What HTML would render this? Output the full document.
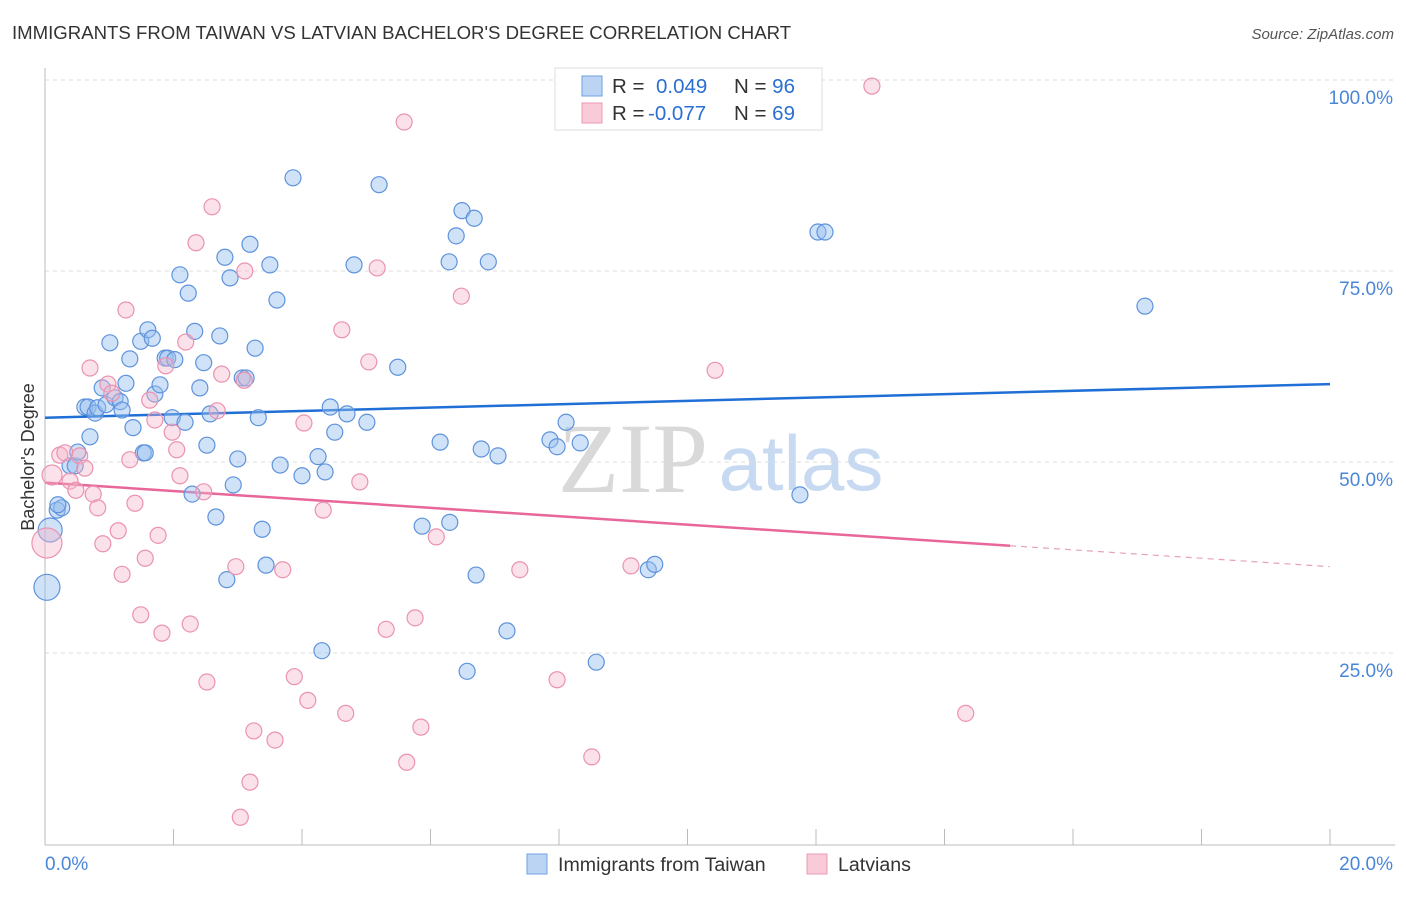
<!DOCTYPE html>
<html><head><meta charset="utf-8"><style>
body{margin:0;background:#fff;font-family:"Liberation Sans",sans-serif}
svg text{font-family:"Liberation Sans",sans-serif}
</style></head><body>
<svg id="chart" width="1406" height="892" xmlns="http://www.w3.org/2000/svg">
<text x="12" y="39" font-size="18.6" fill="#333">IMMIGRANTS FROM TAIWAN VS LATVIAN BACHELOR'S DEGREE CORRELATION CHART</text>
<text x="1394" y="39" font-size="15" fill="#555" font-style="italic" text-anchor="end">Source: ZipAtlas.com</text>
<g>
<text x="633" y="492" font-size="100" fill="#d9d9d9" text-anchor="middle" font-family="Liberation Serif" style="font-family:'Liberation Serif',serif">ZIP</text>
<text x="801" y="490" font-size="78" fill="#c7daf2" text-anchor="middle">atlas</text>
</g>
<g id="grid"></g>
<g id="axes"></g>
<g id="trends"></g>
<g id="pts"></g>
<text transform="translate(34,457) rotate(-90)" font-size="18" fill="#333" text-anchor="middle">Bachelor's Degree</text>
<g>
<rect x="555" y="68" width="267" height="62" fill="#fff" stroke="#ddd"/>
<rect x="582" y="76" width="20" height="20" fill="#bcd4f4" stroke="#6f9fe0"/>
<rect x="582" y="103" width="20" height="20" fill="#f9cad8" stroke="#ea9ab4"/>
<text x="612" y="93" font-size="20.5" fill="#333">R = <tspan fill="#2b6fd0" x="656">0.049</tspan><tspan x="734" fill="#333">N = </tspan><tspan fill="#2b6fd0">96</tspan></text>
<text x="612" y="120" font-size="20.5" fill="#333">R = <tspan fill="#2b6fd0" x="648">-0.077</tspan><tspan x="734" fill="#333">N = </tspan><tspan fill="#2b6fd0">69</tspan></text>
</g>
<g>
<rect x="527" y="854" width="20" height="20" fill="#bcd4f4" stroke="#6f9fe0"/>
<text x="558" y="871" font-size="19.6" fill="#333">Immigrants from Taiwan</text>
<rect x="807" y="854" width="20" height="20" fill="#f9cad8" stroke="#ea9ab4"/>
<text x="838" y="871" font-size="19.6" fill="#333">Latvians</text>
</g>
</svg>
<script>
const blueX=[.03,.08,.19,.26,.2,.39,.47,.51,.62,.67,.7,.78,.82,.89,.95,1.01,1.09,1.17,1.2,1.26,1.32,1.37,1.49,1.53,1.56,1.6,1.67,1.71,1.79,1.87,1.91,1.98,2.02,2.1,2.18,2.23,2.29,2.33,2.41,2.47,2.52,2.57,2.66,2.72,2.8,2.83,2.88,2.93,3.0,3.07,3.13,3.19,3.27,3.32,3.38,3.44,3.5,3.61,3.66,3.86,4.0,4.25,4.31,4.36,4.44,4.51,4.7,4.81,5.01,5.2,5.49,5.87,6.15,6.3,6.29,6.4,6.49,6.57,6.68,6.71,6.79,6.9,7.05,7.19,7.86,7.97,8.11,8.33,8.58,9.39,9.49,11.75,12.03,12.14,17.12];
const blueY=[33.6,41.1,43.7,44.0,44.4,49.5,49.5,51.3,57.2,57.2,53.3,56.4,57.1,59.7,57.5,65.6,58.4,57.9,56.8,60.3,63.5,54.5,65.8,51.2,51.2,67.3,66.2,58.9,60.1,63.6,63.6,55.8,63.4,74.5,55.2,72.1,45.8,67.1,59.7,63.0,52.2,56.3,42.8,66.5,76.8,34.6,74.1,47.0,50.4,61.0,61.0,78.5,64.9,55.8,41.2,36.5,75.8,71.2,49.6,87.2,48.2,50.7,25.3,48.7,57.2,53.9,56.3,75.8,55.2,86.3,62.4,41.6,52.6,42.1,76.2,79.6,82.9,22.6,81.9,35.2,51.7,76.2,50.8,27.9,52.9,52.0,55.2,52.5,23.8,35.9,36.6,45.7,80.1,80.1,70.4];
const pinkX=[.03,.11,.23,.31,.39,.48,.54,.62,.7,.75,.82,.9,.98,1.04,1.14,1.2,1.26,1.32,1.4,1.49,1.56,1.63,1.71,1.76,1.82,1.88,1.98,2.05,2.1,2.19,2.26,2.35,2.47,2.52,2.6,2.68,2.75,2.97,3.04,3.1,3.11,3.19,3.25,3.58,3.7,3.88,4.03,4.09,4.33,4.62,4.68,4.9,5.04,5.17,5.31,5.59,5.63,5.76,5.85,6.09,6.48,7.39,7.97,8.51,9.12,10.43,12.87,14.33];
const pinkY=[39.4,48.3,50.9,51.2,47.5,46.3,50.8,49.2,62.3,45.8,44.0,39.3,60.2,59.0,41.0,35.3,69.9,50.3,44.6,30.0,37.4,58.1,55.5,40.4,27.6,62.6,53.9,51.6,48.2,65.7,28.8,78.7,46.1,21.2,83.4,56.7,61.5,36.3,3.5,60.7,75.0,8.1,14.8,13.6,35.9,21.9,55.1,18.8,43.7,67.3,17.1,47.4,63.1,75.4,28.1,94.5,10.7,29.6,15.3,40.2,71.7,35.9,21.5,11.4,36.4,62.0,99.2,17.1];
const blueTrend=[55.8,60.2];
const pinkTrend=[47.3,36.3];
const pinkSolidEnd=15.02;
const yTicks=[25,50,75,100];
const yTickLabels=["25.0%","50.0%","75.0%","100.0%"];
const xTicks=[0,2,4,6,8,10,12,14,16,18,20];
const NS="http://www.w3.org/2000/svg";
const X=v=>45+v*64.25, Y=v=>844-v*7.64;
function mk(tag,attrs,parent){const e=document.createElementNS(NS,tag);for(const k in attrs)e.setAttribute(k,attrs[k]);document.getElementById(parent).appendChild(e);return e;}
yTicks.forEach((t,i)=>{
 const l=mk('line',{x1:45,x2:1395,y1:Y(t),y2:Y(t),stroke:'#ddd','stroke-dasharray':'4,4'},'grid');
 
 
 const tx=mk('text',{x:1393,y:Y(t)+24,'font-size':19,fill:'#4a86d8','text-anchor':'end'},'grid');
 tx.textContent=yTickLabels[i];
 
 
});
let a=mk('line',{x1:45,x2:45,y1:68,y2:845,stroke:'#bbb'},'axes');


a=mk('line',{x1:45,x2:1395,y1:845,y2:845,stroke:'#bbb'},'axes');


xTicks.forEach(t=>{
 const l=mk('line',{x1:X(t),x2:X(t),y1:829,y2:845,stroke:'#bbb'},'axes');
 
 
});
let t=mk('text',{x:45,y:870,'font-size':19,fill:'#4a86d8'},'axes');t.textContent='0.0%';


t=mk('text',{x:1393,y:870,'font-size':19,fill:'#4a86d8','text-anchor':'end'},'axes');t.textContent='20.0%';


function bigR(x,y,isBlue){if(isBlue){if(x<0.05)return 13;if(x<0.1)return 12;}else{if(x<0.05)return 15;if(x<0.15)return 10;}return 8;}
blueX.forEach((x,i)=>{
 const c=mk('circle',{cx:X(x),cy:Y(blueY[i]),r:bigR(x,blueY[i],true),fill:'rgba(150,190,240,0.45)',stroke:'#5e93dc','stroke-width':1.2},'pts');
 
 
});
pinkX.forEach((x,i)=>{
 const c=mk('circle',{cx:X(x),cy:Y(pinkY[i]),r:bigR(x,pinkY[i],false),fill:'rgba(246,180,200,0.4)',stroke:'#eb92b0','stroke-width':1.2},'pts');
 
 
});
let tl=mk('line',{x1:X(0),y1:Y(blueTrend[0]),x2:X(20),y2:Y(blueTrend[1]),stroke:'#1f6fd6','stroke-width':2.5},'trends');


const pm=(pinkTrend[1]-pinkTrend[0])/20, pEnd=pinkTrend[0]+pm*pinkSolidEnd;
tl=mk('line',{x1:X(0),y1:Y(pinkTrend[0]),x2:X(pinkSolidEnd),y2:Y(pEnd),stroke:'#e8669a','stroke-width':2.5},'trends');


tl=mk('line',{x1:X(pinkSolidEnd),y1:Y(pEnd),x2:X(20),y2:Y(pinkTrend[1]),stroke:'#e8a0bb','stroke-width':1.2,'stroke-dasharray':'6,5'},'trends');


</script>
</body></html>
